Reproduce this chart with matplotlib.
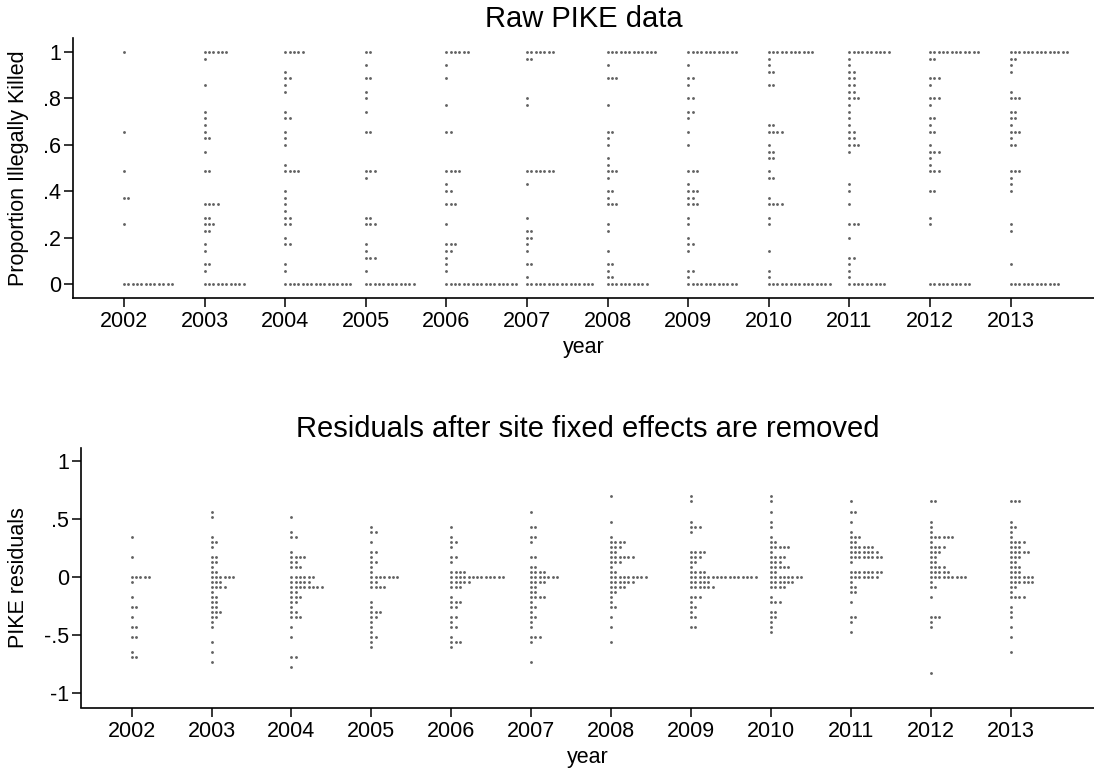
import numpy as np
import matplotlib
matplotlib.use("Agg")
import matplotlib.pyplot as plt

plt.rcParams['font.family'] = ['Liberation Sans', 'DejaVu Sans']

years = [2002, 2003, 2004, 2005, 2006, 2007, 2008, 2009, 2010, 2011, 2012, 2013]

# Raw PIKE: (proportion, number of sites at that value)
raw_2002 = [(1.0, 1), (0.657, 1), (0.486, 1), (0.371, 2), (0.257, 1), (0.0, 12)]
raw_2003 = [(1.0, 6), (0.971, 1), (0.857, 1), (0.743, 1), (0.714, 1), (0.686, 1), (0.657, 1),
            (0.629, 2), (0.571, 1), (0.486, 2), (0.343, 4), (0.286, 2), (0.257, 3), (0.229, 2),
            (0.171, 1), (0.143, 1), (0.086, 2), (0.057, 1), (0.0, 10)]
raw_2004 = [(1.0, 5), (0.914, 1), (0.886, 2), (0.857, 1), (0.829, 1), (0.743, 1), (0.714, 2),
            (0.657, 1), (0.629, 1), (0.6, 1), (0.514, 1), (0.486, 4), (0.4, 1), (0.371, 1),
            (0.343, 1), (0.314, 1), (0.286, 2), (0.257, 2), (0.2, 1), (0.171, 2), (0.086, 1),
            (0.057, 1), (0.0, 16)]
raw_2005 = [(1.0, 2), (0.943, 1), (0.886, 2), (0.829, 1), (0.8, 1), (0.743, 1), (0.657, 2),
            (0.486, 3), (0.457, 1), (0.286, 2), (0.257, 3), (0.171, 1), (0.143, 1), (0.114, 3),
            (0.057, 1), (0.0, 12)]
raw_2006 = [(1.0, 6), (0.943, 1), (0.886, 1), (0.771, 1), (0.657, 2), (0.486, 4), (0.429, 1),
            (0.4, 2), (0.343, 3), (0.257, 1), (0.171, 3), (0.143, 2), (0.114, 1), (0.086, 1),
            (0.057, 1), (0.0, 17)]
raw_2007 = [(1.0, 7), (0.971, 2), (0.8, 1), (0.771, 1), (0.486, 7), (0.429, 1), (0.286, 1),
            (0.229, 2), (0.2, 2), (0.171, 1), (0.143, 1), (0.086, 2), (0.029, 1), (0.0, 16)]
raw_2008 = [(1.0, 12), (0.943, 1), (0.886, 3), (0.771, 1), (0.657, 2), (0.629, 1), (0.6, 1),
            (0.543, 1), (0.514, 1), (0.486, 3), (0.457, 1), (0.4, 2), (0.371, 1), (0.343, 3),
            (0.257, 1), (0.229, 1), (0.143, 1), (0.086, 2), (0.057, 1), (0.029, 2), (0.0, 10)]
raw_2009 = [(1.0, 12), (0.943, 1), (0.886, 2), (0.857, 1), (0.8, 2), (0.743, 2), (0.714, 1),
            (0.657, 1), (0.6, 1), (0.486, 3), (0.429, 1), (0.4, 3), (0.371, 2), (0.343, 3),
            (0.286, 1), (0.257, 1), (0.2, 1), (0.171, 2), (0.143, 1), (0.057, 2), (0.029, 1),
            (0.0, 12)]
raw_2010 = [(1.0, 11), (0.971, 1), (0.943, 1), (0.914, 2), (0.857, 2), (0.686, 2), (0.657, 4),
            (0.6, 1), (0.571, 2), (0.543, 2), (0.486, 1), (0.457, 2), (0.371, 1), (0.343, 4),
            (0.286, 1), (0.257, 1), (0.143, 1), (0.057, 1), (0.029, 1), (0.0, 15)]
raw_2011 = [(1.0, 10), (0.971, 1), (0.943, 1), (0.914, 2), (0.886, 2), (0.857, 2), (0.829, 2),
            (0.8, 3), (0.771, 1), (0.743, 1), (0.714, 1), (0.686, 1), (0.657, 2), (0.629, 2),
            (0.6, 3), (0.571, 1), (0.429, 1), (0.4, 1), (0.343, 1), (0.257, 3), (0.2, 1),
            (0.114, 2), (0.086, 1), (0.057, 1), (0.029, 1), (0.0, 9)]
raw_2012 = [(1.0, 12), (0.971, 2), (0.886, 3), (0.857, 1), (0.8, 3), (0.771, 1), (0.714, 2),
            (0.686, 1), (0.657, 2), (0.6, 1), (0.571, 3), (0.543, 1), (0.514, 1), (0.486, 3),
            (0.4, 2), (0.286, 1), (0.257, 1), (0.0, 10)]
raw_2013 = [(1.0, 14), (0.971, 2), (0.943, 1), (0.914, 1), (0.829, 1), (0.8, 3), (0.743, 2),
            (0.714, 2), (0.686, 1), (0.657, 3), (0.629, 1), (0.6, 2), (0.486, 3), (0.457, 1),
            (0.429, 1), (0.4, 1), (0.257, 1), (0.229, 1), (0.086, 1), (0.0, 12)]

# residuals after site fixed effects
res_2002 = [(0.346, 1), (0.173, 1), (0.0, 5), (-0.043, 1), (-0.173, 1), (-0.26, 2), (-0.346, 1),
            (-0.433, 2), (-0.52, 2), (-0.65, 1), (-0.693, 2)]
res_2003 = [(0.563, 1), (0.52, 1), (0.346, 1), (0.303, 2), (0.26, 1), (0.173, 2), (0.13, 2),
            (0.087, 1), (0.043, 2), (0.0, 6), (-0.043, 3), (-0.087, 4), (-0.13, 1), (-0.173, 2),
            (-0.217, 2), (-0.26, 2), (-0.303, 3), (-0.346, 2), (-0.39, 1), (-0.433, 1),
            (-0.563, 1), (-0.65, 1), (-0.736, 1)]
res_2004 = [(0.52, 1), (0.39, 1), (0.346, 2), (0.217, 1), (0.173, 4), (0.13, 2), (0.087, 3),
            (0.0, 6), (-0.043, 5), (-0.087, 8), (-0.13, 2), (-0.173, 3), (-0.217, 2), (-0.26, 1),
            (-0.303, 2), (-0.346, 3), (-0.433, 1), (-0.52, 1), (-0.693, 2), (-0.779, 1)]
res_2005 = [(0.433, 1), (0.39, 2), (0.303, 1), (0.217, 2), (0.173, 1), (0.13, 2), (0.087, 1),
            (0.043, 1), (0.0, 7), (-0.043, 2), (-0.087, 4), (-0.217, 1), (-0.26, 1), (-0.303, 3),
            (-0.346, 2), (-0.39, 1), (-0.433, 1), (-0.476, 1), (-0.52, 2), (-0.563, 1),
            (-0.606, 1)]
res_2006 = [(0.433, 1), (0.346, 1), (0.303, 2), (0.26, 1), (0.173, 2), (0.13, 1), (0.043, 4),
            (0.0, 13), (-0.043, 5), (-0.087, 3), (-0.173, 1), (-0.217, 3), (-0.26, 2),
            (-0.346, 2), (-0.39, 1), (-0.433, 2), (-0.52, 1), (-0.563, 3), (-0.606, 1)]
res_2007 = [(0.563, 1), (0.433, 2), (0.346, 2), (0.303, 1), (0.173, 2), (0.087, 2), (0.043, 4),
            (0.0, 7), (-0.043, 4), (-0.087, 2), (-0.13, 2), (-0.173, 4), (-0.217, 1), (-0.26, 2),
            (-0.303, 1), (-0.346, 2), (-0.39, 1), (-0.433, 1), (-0.52, 3), (-0.563, 1),
            (-0.736, 1)]
res_2008 = [(0.693, 1), (0.476, 1), (0.346, 1), (0.303, 4), (0.26, 3), (0.217, 2), (0.173, 6),
            (0.13, 3), (0.087, 1), (0.043, 2), (0.0, 9), (-0.043, 6), (-0.087, 4), (-0.13, 2),
            (-0.173, 1), (-0.217, 1), (-0.26, 2), (-0.346, 1), (-0.433, 1), (-0.563, 1)]
res_2009 = [(0.693, 1), (0.65, 1), (0.476, 1), (0.433, 3), (0.39, 1), (0.217, 4), (0.173, 3),
            (0.13, 2), (0.087, 1), (0.043, 4), (0.0, 16), (-0.043, 5), (-0.087, 6), (-0.173, 3),
            (-0.217, 1), (-0.26, 2), (-0.303, 1), (-0.346, 2), (-0.433, 2)]
res_2010 = [(0.693, 1), (0.65, 1), (0.563, 1), (0.476, 1), (0.433, 1), (0.346, 1), (0.303, 2),
            (0.26, 5), (0.217, 1), (0.173, 4), (0.13, 3), (0.087, 5), (0.043, 2), (0.0, 8),
            (-0.043, 6), (-0.087, 4), (-0.173, 1), (-0.217, 3), (-0.303, 2), (-0.346, 2),
            (-0.39, 1), (-0.433, 1), (-0.476, 1)]
res_2011 = [(0.65, 1), (0.563, 2), (0.476, 1), (0.39, 1), (0.346, 3), (0.303, 2), (0.26, 6),
            (0.217, 7), (0.173, 8), (0.13, 1), (0.043, 8), (0.0, 7), (-0.043, 1), (-0.087, 2),
            (-0.13, 2), (-0.217, 1), (-0.346, 2), (-0.39, 1), (-0.476, 1)]
res_2012 = [(0.65, 2), (0.476, 1), (0.433, 1), (0.39, 1), (0.346, 6), (0.303, 1), (0.26, 4),
            (0.217, 3), (0.173, 2), (0.13, 2), (0.087, 4), (0.043, 5), (0.0, 9), (-0.043, 1),
            (-0.087, 2), (-0.173, 1), (-0.346, 3), (-0.39, 1), (-0.433, 1), (-0.823, 1)]
res_2013 = [(0.65, 3), (0.476, 1), (0.433, 2), (0.39, 1), (0.346, 1), (0.303, 4), (0.26, 3),
            (0.217, 5), (0.173, 3), (0.13, 2), (0.087, 3), (0.043, 3), (0.0, 6), (-0.043, 6),
            (-0.087, 2), (-0.13, 1), (-0.173, 4), (-0.26, 1), (-0.303, 1), (-0.346, 1),
            (-0.433, 1), (-0.52, 1), (-0.65, 1)]

raw_rows = [raw_2002, raw_2003, raw_2004, raw_2005, raw_2006, raw_2007,
            raw_2008, raw_2009, raw_2010, raw_2011, raw_2012, raw_2013]
res_rows = [res_2002, res_2003, res_2004, res_2005, res_2006, res_2007,
            res_2008, res_2009, res_2010, res_2011, res_2012, res_2013]

raw_yticks = [0, 0.2, 0.4, 0.6, 0.8, 1]
raw_yticklabels = ['0', '.2', '.4', '.6', '.8', '1']
res_yticks = [-1, -0.5, 0, 0.5, 1]
res_yticklabels = ['-1', '-.5', '0', '.5', '1']


def dot_columns(rows_per_year, dx):
    # stack the dots of each value to the right of the year tick
    xs, ys = [], []
    for year, rows in zip(years, rows_per_year):
        for value, count in rows:
            for i in range(count):
                xs.append(year + i * dx)
                ys.append(value)
    return np.array(xs), np.array(ys)


W, H = 1094, 771
fig = plt.figure(figsize=(W / 100, H / 100), dpi=100)

ax1 = fig.add_axes([73 / W, 1 - 298 / H, 1 - 73 / W, (298 - 38) / H])
ax2 = fig.add_axes([80.7 / W, 1 - 707.5 / H, 1 - 80.7 / W, (707.5 - 447.7) / H])

panels = [
    (ax1, raw_rows, 'Raw PIKE data', 'Proportion Illegally Killed',
     raw_yticks, raw_yticklabels, (-0.06, 1.06), (2001.367, 2014.035)),
    (ax2, res_rows, 'Residuals after site fixed effects are removed', 'PIKE residuals',
     res_yticks, res_yticklabels, (-1.124, 1.113), (2001.362, 2014.044)),
]

for ax, rows, title, ylabel, yt, ytl, ylim, xlim in panels:
    x, y = dot_columns(rows, 0.054)
    ax.scatter(x, y, s=4.2, color='#626262', linewidths=0, zorder=3)
    ax.set_xlim(*xlim)
    ax.set_ylim(*ylim)
    ax.set_xticks(years)
    ax.set_xticklabels([str(yr) for yr in years])
    ax.set_yticks(yt)
    ax.set_yticklabels(ytl)
    for side in ['top', 'right']:
        ax.spines[side].set_visible(False)
    for side in ['left', 'bottom']:
        ax.spines[side].set_linewidth(1.2)
    ax.tick_params(axis='both', direction='out', length=6.5, width=1.1, labelsize=15.5)
    ax.tick_params(axis='y', pad=2)
    ax.tick_params(axis='x', pad=3)
    ax.set_title(title, fontsize=21, pad=8)
    ax.set_xlabel('year', fontsize=15.5, va='baseline')
    ax.set_ylabel(ylabel, fontsize=15.5, va='center')

ax1.xaxis.set_label_coords(0.5, -55 / 260)
ax2.xaxis.set_label_coords(0.5, -55 / 259.8)
ax1.yaxis.set_label_coords((19 - 73) / (W - 73), 0.5)
ax2.yaxis.set_label_coords((19 - 80.7) / (W - 80.7), 0.5)

fig.savefig('out.png', dpi=100)
